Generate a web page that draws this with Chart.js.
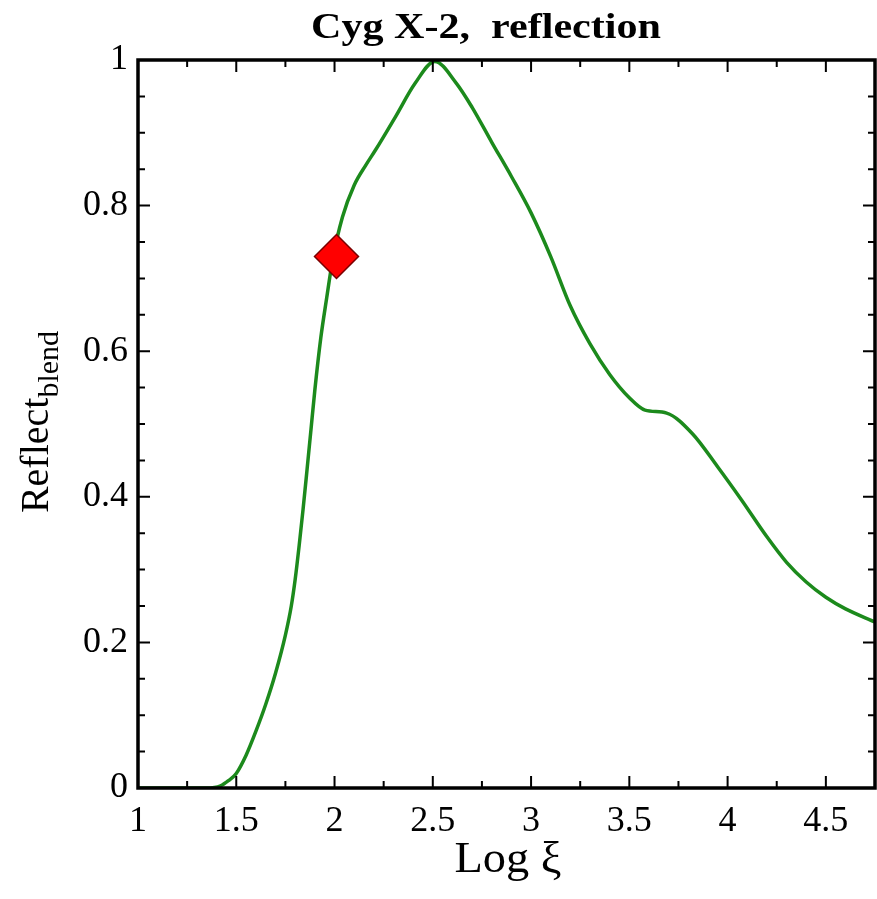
<!DOCTYPE html>
<html>
<head>
<meta charset="utf-8"/>
<title>Cyg X-2, reflection</title>
<script src="https://cdn.jsdelivr.net/npm/chart.js@4.4.0/dist/chart.umd.min.js"></script>
<style>
  html, body { margin: 0; padding: 0; background: #fff; }
  #wrap { width: 877px; height: 899px; }
</style>
</head>
<body>
<div id="wrap"><canvas id="reflchart" width="877" height="899"></canvas></div>
<script>
// curve: log xi vs blended reflection
var logXi = [1.0, 1.2, 1.35, 1.42, 1.46, 1.5, 1.55, 1.60, 1.65, 1.70, 1.75, 1.78, 1.80, 1.82, 1.84, 1.86, 1.88, 1.90,
             1.93, 1.96, 1.99, 2.04, 2.10, 2.16, 2.21, 2.31, 2.41, 2.51, 2.62, 2.70, 2.80, 2.90, 3.00, 3.10, 3.20,
             3.30, 3.40, 3.50, 3.58, 3.69, 3.82, 3.95, 4.07, 4.20, 4.30, 4.40, 4.50, 4.60, 4.75];
var reflBlend = [0.0, 0.0, 0.0, 0.003, 0.01, 0.02, 0.045, 0.078, 0.115, 0.158, 0.21, 0.25, 0.287, 0.333, 0.383, 0.437, 0.492, 0.547,
                 0.618, 0.673, 0.725, 0.784, 0.828, 0.856, 0.877, 0.922, 0.968, 0.998, 0.968, 0.935, 0.887, 0.84, 0.79, 0.73, 0.662,
                 0.61, 0.568, 0.536, 0.519, 0.515, 0.487, 0.441, 0.396, 0.345, 0.31, 0.283, 0.262, 0.246, 0.228];

// the single marked point
var markX = [2.01];
var markY = [0.73];

var xTicks = [1, 1.5, 2, 2.5, 3, 3.5, 4, 4.5];
var xMinor = [1.25, 1.75, 2.25, 2.75, 3.25, 3.75, 4.25, 4.75];
var yTicks = [0, 0.2, 0.4, 0.6, 0.8, 1];
var yMinor = [0.05, 0.1, 0.15, 0.25, 0.3, 0.35, 0.45, 0.5, 0.55, 0.65, 0.7, 0.75, 0.85, 0.9, 0.95];

var serif = '"Liberation Serif", "DejaVu Serif", serif';

function toPts(xs, ys) {
    var out = [];
    for (var i = 0; i < xs.length; i++) out.push({x: xs[i], y: ys[i]});
    return out;
}

// draws text stretched to a given width, centred at x
function stretchText(c, txt, x, y, width) {
    var w = c.measureText(txt).width;
    c.save();
    c.translate(x, y);
    c.scale(width / w, 1);
    c.textAlign = 'center';
    c.fillText(txt, 0, 0);
    c.restore();
}

// frame, inward ticks and the titles
var decor = {
    id: 'decor',
    afterDatasetsDraw: function(chart) {
        var c = chart.ctx, a = chart.chartArea;
        var xs = chart.scales.x, ys = chart.scales.y;
        c.save();
        c.strokeStyle = '#000';
        c.lineWidth = 2;
        c.beginPath();
        xTicks.forEach(function(v) {
            var p = xs.getPixelForValue(v);
            c.moveTo(p, a.bottom); c.lineTo(p, a.bottom - 12);
            c.moveTo(p, a.top); c.lineTo(p, a.top + 12);
        });
        xMinor.forEach(function(v) {
            var p = xs.getPixelForValue(v);
            c.moveTo(p, a.bottom); c.lineTo(p, a.bottom - 7);
            c.moveTo(p, a.top); c.lineTo(p, a.top + 7);
        });
        yTicks.forEach(function(v) {
            var p = ys.getPixelForValue(v);
            c.moveTo(a.left, p); c.lineTo(a.left + 12, p);
            c.moveTo(a.right, p); c.lineTo(a.right - 12, p);
        });
        yMinor.forEach(function(v) {
            var p = ys.getPixelForValue(v);
            c.moveTo(a.left, p); c.lineTo(a.left + 7, p);
            c.moveTo(a.right, p); c.lineTo(a.right - 7, p);
        });
        c.stroke();
        c.lineWidth = 3.5;
        c.strokeRect(a.left, a.top, a.right - a.left, a.bottom - a.top);

        c.fillStyle = '#000';
        c.textBaseline = 'alphabetic';
        c.font = 'bold 36px ' + serif;
        stretchText(c, 'Cyg X-2,  reflection', 486, 38, 350);

        c.font = '44px ' + serif;
        stretchText(c, 'Log \u03be', 508, 872, 107);

        c.translate(48, 422);
        c.rotate(-Math.PI / 2);
        c.font = '40px ' + serif;
        var w1 = c.measureText('Reflect').width;
        c.font = '30px ' + serif;
        var w2 = c.measureText('blend').width;
        var x0 = -(w1 + w2) / 2;
        c.textAlign = 'left';
        c.font = '40px ' + serif;
        c.fillText('Reflect', x0, 0);
        c.font = '30px ' + serif;
        c.fillText('blend', x0 + w1, 10);
        c.restore();
    }
};

new Chart(document.getElementById('reflchart'), {
    type: 'scatter',
    data: {
        datasets: [{
            data: toPts(logXi, reflBlend),
            showLine: true,
            borderColor: '#1c8a1c',
            borderWidth: 3.5,
            pointRadius: 0,
            cubicInterpolationMode: 'monotone',
            fill: false,
            order: 2
        }, {
            data: toPts(markX, markY),
            pointStyle: 'rectRot',
            pointRadius: 22,
            pointBackgroundColor: '#ff0000',
            pointBorderColor: '#7a0000',
            pointBorderWidth: 1.5,
            order: 1
        }]
    },
    options: {
        responsive: false,
        animation: false,
        layout: { autoPadding: false, padding: { top: 60, right: 2, left: 0, bottom: 0 } },
        plugins: { legend: { display: false }, tooltip: { enabled: false } },
        scales: {
            x: {
                type: 'linear',
                min: 1, max: 4.75,
                afterBuildTicks: function(s) { s.ticks = xTicks.map(function(v) { return {value: v}; }); },
                afterFit: function(s) { s.height = 111; },
                grid: { display: false, drawTicks: false },
                border: { display: false },
                ticks: {
                    color: '#000',
                    padding: 12,
                    maxRotation: 0,
                    font: { family: serif, size: 36 },
                    callback: function(v) { return String(v); }
                }
            },
            y: {
                type: 'linear',
                min: 0, max: 1,
                afterBuildTicks: function(s) { s.ticks = yTicks.map(function(v) { return {value: v}; }); },
                afterFit: function(s) { s.width = 138; },
                grid: { display: false, drawTicks: false },
                border: { display: false },
                ticks: {
                    color: '#000',
                    padding: 10,
                    font: { family: serif, size: 36 },
                    callback: function(v) { return String(v); }
                }
            }
        }
    },
    plugins: [decor]
});
</script>
</body>
</html>
